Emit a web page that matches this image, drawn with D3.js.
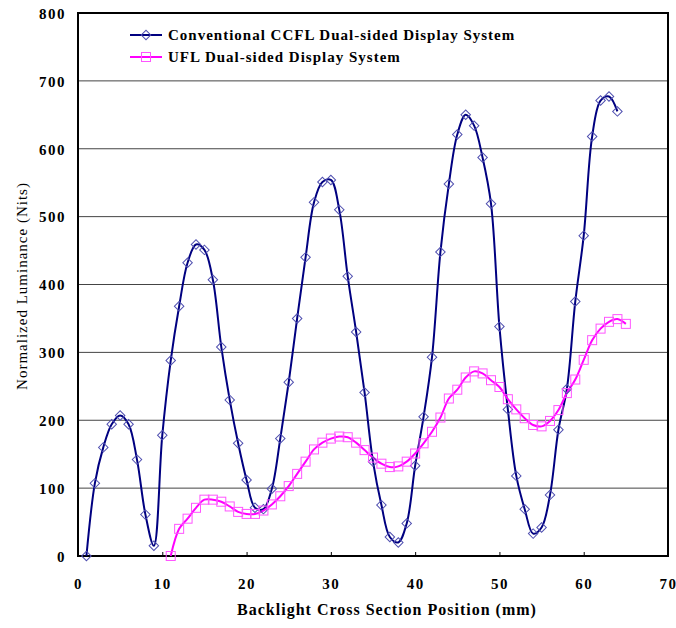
<!DOCTYPE html>
<html>
<head>
<meta charset="utf-8">
<script src="https://cdn.jsdelivr.net/npm/d3@7"></script>
<style>
  body { margin: 0; background: #fff; }
</style>
</head>
<body>
<div id="plot1"></div>
<script>
// data (position in mm, luminance in nits)
const ccflX = d3.range(1, 65);
const ccflY = [0, 107, 160, 194, 207, 194, 142, 61, 15, 178,
  288, 368, 432, 459, 451, 407, 308, 230, 166, 112,
  71, 69, 99, 173, 256, 350, 440, 521, 551, 554,
  510, 412, 330, 241, 139, 75, 28, 20, 48, 133,
  205, 293, 448, 548, 621, 650, 634, 587, 519, 338,
  216, 118, 69, 33, 42, 90, 186, 246, 375, 472,
  618, 671, 677, 655];

const uflX = d3.range(11, 66);
const uflY = [0, 40, 55, 71, 83, 83, 80, 73, 65, 62,
  62, 67, 76, 88, 103, 121, 139, 157, 167, 173,
  176, 175, 167, 156, 145, 136, 131, 132, 139, 151,
  166, 183, 204, 232, 245, 263, 272, 269, 259, 249,
  231, 216, 203, 193, 191, 199, 215, 240, 260, 289,
  318, 335, 345, 349, 342];

const seriesNames = ["Conventional CCFL Dual-sided Display System", "UFL Dual-sided Display System"];
const xTicks = [0, 10, 20, 30, 40, 50, 60, 70];
const yTicks = [0, 100, 200, 300, 400, 500, 600, 700, 800];

const navy = "#000080";
const magenta = "#ff00ff";

const width = 676;
const height = 628;
const marginTop = 13;
const marginRight = 8;
const marginBottom = 72;
const marginLeft = 78;

const x = d3.scaleLinear()
  .domain([0, 70])
  .range([marginLeft, width - marginRight]);

const y = d3.scaleLinear()
  .domain([0, 800])
  .range([height - marginBottom, marginTop]);

function chart() {
  const svg = d3.create("svg")
    .attr("width", width)
    .attr("height", height)
    .attr("viewBox", [0, 0, width, height])
    .style("font-family", "'Liberation Serif', 'DejaVu Serif', serif");

  // horizontal gridlines
  svg.append("g")
    .selectAll("line")
    .data(yTicks.slice(1, -1))
    .join("line")
    .attr("x1", x(0)).attr("x2", x(70))
    .attr("y1", d => y(d)).attr("y2", d => y(d))
    .attr("stroke", "#444")
    .attr("stroke-width", 1);

  // axes, ticks pointing inward
  const xAxis = svg.append("g")
    .attr("transform", `translate(0,${y(0)})`)
    .call(d3.axisBottom(x).tickValues(xTicks).tickSizeInner(-4).tickSizeOuter(0).tickPadding(22));
  xAxis.select(".domain").remove();
  xAxis.selectAll("text")
    .style("font-size", "15px")
    .style("font-weight", "bold")
    .style("letter-spacing", "1.5px")
    .style("font-family", "'Liberation Serif', serif");

  const yAxis = svg.append("g")
    .attr("transform", `translate(${x(0)},0)`)
    .call(d3.axisLeft(y).tickValues(yTicks).tickSizeInner(0).tickSizeOuter(0).tickPadding(12));
  yAxis.select(".domain").remove();
  yAxis.selectAll("text")
    .attr("dy", "0.35em")
    .style("font-size", "15px")
    .style("font-weight", "bold")
    .style("letter-spacing", "1.5px")
    .style("font-family", "'Liberation Serif', serif");

  // plot frame
  svg.append("rect")
    .attr("x", x(0))
    .attr("y", y(800))
    .attr("width", x(70) - x(0))
    .attr("height", y(0) - y(800))
    .attr("fill", "none")
    .attr("stroke", "#000")
    .attr("stroke-width", 2);

  const line = d3.line()
    .x(d => x(d[0]))
    .y(d => y(d[1]))
    .curve(d3.curveCatmullRom.alpha(0.5));

  const ccfl = d3.zip(ccflX, ccflY);
  const ufl = d3.zip(uflX, uflY);

  svg.append("path")
    .attr("d", line(ccfl))
    .attr("fill", "none")
    .attr("stroke", navy)
    .attr("stroke-width", 2);

  svg.append("path")
    .attr("d", line(ufl))
    .attr("fill", "none")
    .attr("stroke", magenta)
    .attr("stroke-width", 2);

  const diamond = d3.symbol().type(d3.symbolSquare).size(45);
  svg.append("g")
    .selectAll("path")
    .data(ccfl)
    .join("path")
    .attr("d", diamond)
    .attr("transform", d => `translate(${x(d[0])},${y(d[1])}) rotate(45)`)
    .attr("fill", "none")
    .attr("stroke", "#5050b0")
    .attr("stroke-width", 1);

  svg.append("g")
    .selectAll("rect")
    .data(ufl)
    .join("rect")
    .attr("x", d => x(d[0]) - 4.5)
    .attr("y", d => y(d[1]) - 4.5)
    .attr("width", 9)
    .attr("height", 9)
    .attr("fill", "none")
    .attr("stroke", "#ff55ff")
    .attr("stroke-width", 1);

  // legend
  const legend = svg.append("g");
  const colors = [navy, magenta];
  seriesNames.forEach((name, i) => {
    const ly = 35 + i * 22;
    legend.append("line")
      .attr("x1", 130).attr("x2", 162)
      .attr("y1", ly).attr("y2", ly)
      .attr("stroke", colors[i])
      .attr("stroke-width", 2);
    if (i == 0) {
      legend.append("path")
        .attr("d", diamond)
        .attr("transform", `translate(146,${ly}) rotate(45)`)
        .attr("fill", "none")
        .attr("stroke", "#5050b0");
    } else {
      legend.append("rect")
        .attr("x", 141.5).attr("y", ly - 4.5)
        .attr("width", 9).attr("height", 9)
        .attr("fill", "none")
        .attr("stroke", "#ff55ff");
    }
    legend.append("text")
      .attr("x", 168)
      .attr("y", ly + 5)
      .text(name)
      .style("font-size", "15px")
      .style("font-weight", "bold")
      .style("letter-spacing", "1px");
  });

  // axis titles
  svg.append("text")
    .attr("x", (x(0) + x(70)) / 2 + 14)
    .attr("y", 615)
    .attr("text-anchor", "middle")
    .style("font-size", "16px")
    .style("font-weight", "bold")
    .style("letter-spacing", "1px")
    .text("Backlight Cross Section Position (mm)");

  svg.append("text")
    .attr("transform", `translate(27,${286}) rotate(-90)`)
    .attr("text-anchor", "middle")
    .style("font-size", "15px")
    .style("letter-spacing", "1px")
    .text("Normalized Luminance (Nits)");

  return svg.node();
}

const div = document.querySelector("#plot1");
div.append(chart());
</script>
</body>
</html>
